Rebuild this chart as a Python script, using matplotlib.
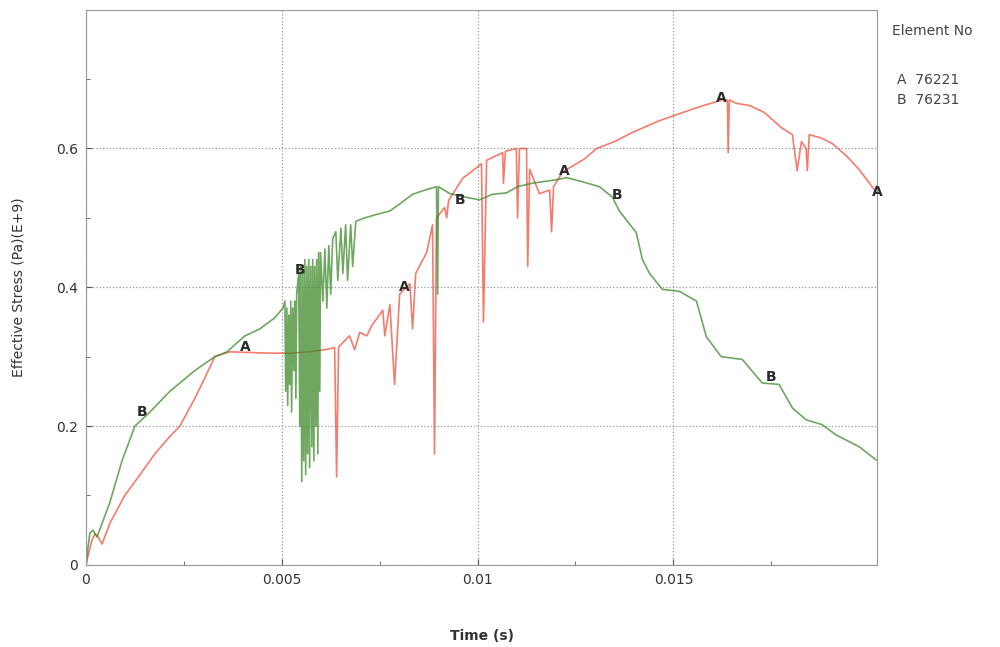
import matplotlib
matplotlib.use('Agg')
import matplotlib.pyplot as plt
import numpy as np

# element A (76221), time in s, effective stress in E+9 Pa
time_a = [0, 0.00008, 0.00015, 0.00023, 0.00031, 0.00041, 0.00061, 0.00099, 0.00138, 0.00176,
          0.00214, 0.0024, 0.00278, 0.00304, 0.00329, 0.00367, 0.00418, 0.00469, 0.0052, 0.00571,
          0.0061, 0.00635, 0.0064, 0.00645, 0.00673, 0.00686, 0.00699, 0.00717, 0.0073, 0.00758,
          0.00763, 0.00776, 0.00788, 0.00801, 0.00827, 0.00834, 0.00842, 0.0087, 0.00885, 0.0089,
          0.00895, 0.00916, 0.00921, 0.00926, 0.00962, 0.00992, 0.0101, 0.01015, 0.01023, 0.01064,
          0.01066, 0.01071, 0.01099, 0.01102, 0.01107, 0.01125, 0.01128, 0.01133, 0.01158, 0.01184,
          0.01189, 0.01194, 0.01217, 0.01273, 0.01304, 0.0135, 0.01395, 0.01464, 0.01566, 0.01625,
          0.01638, 0.0164, 0.01643, 0.01661, 0.01694, 0.01732, 0.01776, 0.01804, 0.01816, 0.01827,
          0.01839, 0.01842, 0.01847, 0.01878, 0.01906, 0.01941, 0.01974, 0.02018]
stress_a = [0, 0.02, 0.035, 0.045, 0.04, 0.03, 0.06, 0.1, 0.13, 0.16,
            0.185, 0.2, 0.24, 0.27, 0.3, 0.307, 0.306, 0.305, 0.305, 0.307,
            0.31, 0.313, 0.127, 0.314, 0.33, 0.31, 0.335, 0.33, 0.345, 0.367,
            0.33, 0.375, 0.26, 0.39, 0.405, 0.34, 0.42, 0.45, 0.49, 0.16,
            0.5, 0.515, 0.5, 0.525, 0.557, 0.57, 0.578, 0.35, 0.583, 0.594,
            0.55, 0.596, 0.6, 0.5, 0.6, 0.6, 0.43, 0.57, 0.535, 0.54,
            0.48, 0.545, 0.566, 0.585, 0.6, 0.61, 0.623, 0.64, 0.66, 0.67,
            0.67, 0.594, 0.67, 0.665, 0.662, 0.652, 0.63, 0.62, 0.568, 0.61,
            0.6, 0.568, 0.62, 0.615, 0.607, 0.59, 0.57, 0.537]

# element B (76231)
time_b = [0, 0.00005, 0.0001, 0.00018, 0.00028, 0.00061, 0.00092, 0.00125, 0.00163, 0.00214,
          0.00278, 0.00329, 0.0036, 0.00406, 0.00444, 0.00482, 0.00503,
          0.00508, 0.0051, 0.00513, 0.00515, 0.00518, 0.0052, 0.00523, 0.00525, 0.00528, 0.00531,
          0.00533, 0.00536, 0.00538,
          0.00543, 0.00546, 0.00548, 0.00551, 0.00554, 0.00556, 0.00559, 0.00561, 0.00564, 0.00566,
          0.00569, 0.00571, 0.00574, 0.00577, 0.00579, 0.00582, 0.00584, 0.00587, 0.00589, 0.00592,
          0.00594, 0.00597,
          0.00599, 0.00605, 0.0061, 0.00615, 0.0062, 0.00625, 0.0063,
          0.00638, 0.00643, 0.00651, 0.00656, 0.00663, 0.00668, 0.00676, 0.00681, 0.00689,
          0.00712, 0.00742, 0.00776, 0.00801, 0.00834, 0.00865, 0.00895, 0.00898, 0.009, 0.00929,
          0.00967, 0.01005, 0.01038, 0.01074, 0.01102, 0.0114, 0.01202, 0.01227, 0.01268, 0.01311,
          0.01344, 0.01362, 0.0138, 0.01405, 0.01421, 0.01439, 0.01472, 0.01516, 0.01559, 0.01584,
          0.01622, 0.01676, 0.01727, 0.0177, 0.01804, 0.01839, 0.0188, 0.01916, 0.01975, 0.02018]
stress_b = [0, 0.025, 0.046, 0.05, 0.04, 0.09, 0.15, 0.2, 0.22, 0.25,
            0.28, 0.3, 0.307, 0.33, 0.34, 0.356, 0.37,
            0.38, 0.25, 0.37, 0.23, 0.36, 0.26, 0.38, 0.22, 0.37, 0.28,
            0.38, 0.24, 0.39,
            0.42, 0.2, 0.43, 0.12, 0.42, 0.15, 0.44, 0.13, 0.43, 0.16,
            0.44, 0.14, 0.43, 0.17, 0.44, 0.15, 0.43, 0.2, 0.44, 0.16,
            0.45, 0.25,
            0.45, 0.38, 0.455, 0.37, 0.46, 0.39, 0.47,
            0.48, 0.41, 0.485, 0.42, 0.49, 0.41, 0.49, 0.43, 0.495,
            0.5, 0.505, 0.51, 0.52, 0.534, 0.54, 0.545, 0.39, 0.545, 0.535,
            0.53, 0.526, 0.534, 0.536, 0.545, 0.55, 0.555, 0.558, 0.552, 0.545,
            0.53, 0.51, 0.497, 0.479, 0.44, 0.42, 0.397, 0.394, 0.38, 0.329,
            0.3, 0.296, 0.262, 0.26, 0.226, 0.209, 0.202, 0.187, 0.17, 0.151]

# curve letters placed along each curve
label_t_a = [0.00406, 0.00814, 0.01222, 0.01622, 0.0202]
label_y_a = [0.314, 0.40, 0.568, 0.673, 0.538]
label_t_b = [0.00143, 0.00546, 0.00954, 0.01355, 0.0175]
label_y_b = [0.22, 0.425, 0.526, 0.533, 0.271]

elements = ['76221', '76231']

fig = plt.figure(figsize=(10, 6.47), dpi=100)
ax = fig.add_axes([0.086, 0.127, 0.791, 0.858])

ax.plot(time_a, stress_a, color='#f0503c', lw=1.2, alpha=0.75)
ax.plot(time_b, stress_b, color='#3f8a2c', lw=1.2, alpha=0.75)

for t, y in zip(label_t_a, label_y_a):
    ax.text(t, y, 'A', ha='center', va='center', fontsize=10, color='#2a2a2a',
            fontweight='semibold', clip_on=False)
for t, y in zip(label_t_b, label_y_b):
    ax.text(t, y, 'B', ha='center', va='center', fontsize=10, color='#2a2a2a',
            fontweight='semibold', clip_on=False)

ax.set_xlim(0, 0.0202)
ax.set_ylim(0, 0.8)
ax.set_xticks([0, 0.005, 0.01, 0.015])
ax.set_xticklabels(['0', '0.005', '0.01', '0.015'])
ax.set_yticks([0, 0.2, 0.4, 0.6])
ax.set_yticklabels(['0', '0.2', '0.4', '0.6'])
ax.set_xticks([0.0025, 0.0075, 0.0125, 0.0175], minor=True)
ax.set_yticks([0.1, 0.3, 0.5, 0.7], minor=True)
ax.grid(True, which='major', color='#999999', linestyle=':', linewidth=0.9)
ax.tick_params(which='both', direction='in', colors='#555555', labelcolor='#333333', labelsize=10)
ax.tick_params(which='major', length=4, pad=6)
ax.tick_params(which='minor', length=3)
for s in ax.spines.values():
    s.set_color('#999999')
    s.set_linewidth(0.8)

ax.set_xlabel('Time (s)', fontsize=10, color='#333333', labelpad=30, fontweight='semibold')
ax.set_ylabel('Effective Stress (Pa)(E+9)', fontsize=10, color='#333333', labelpad=22)

fig.text(0.892, 0.952, 'Element No', fontsize=10, color='#444444', va='center')
fig.text(0.897, 0.876, 'A  ' + elements[0], fontsize=10, color='#444444', va='center')
fig.text(0.897, 0.845, 'B  ' + elements[1], fontsize=10, color='#444444', va='center')

fig.savefig('out.png', dpi=100)
